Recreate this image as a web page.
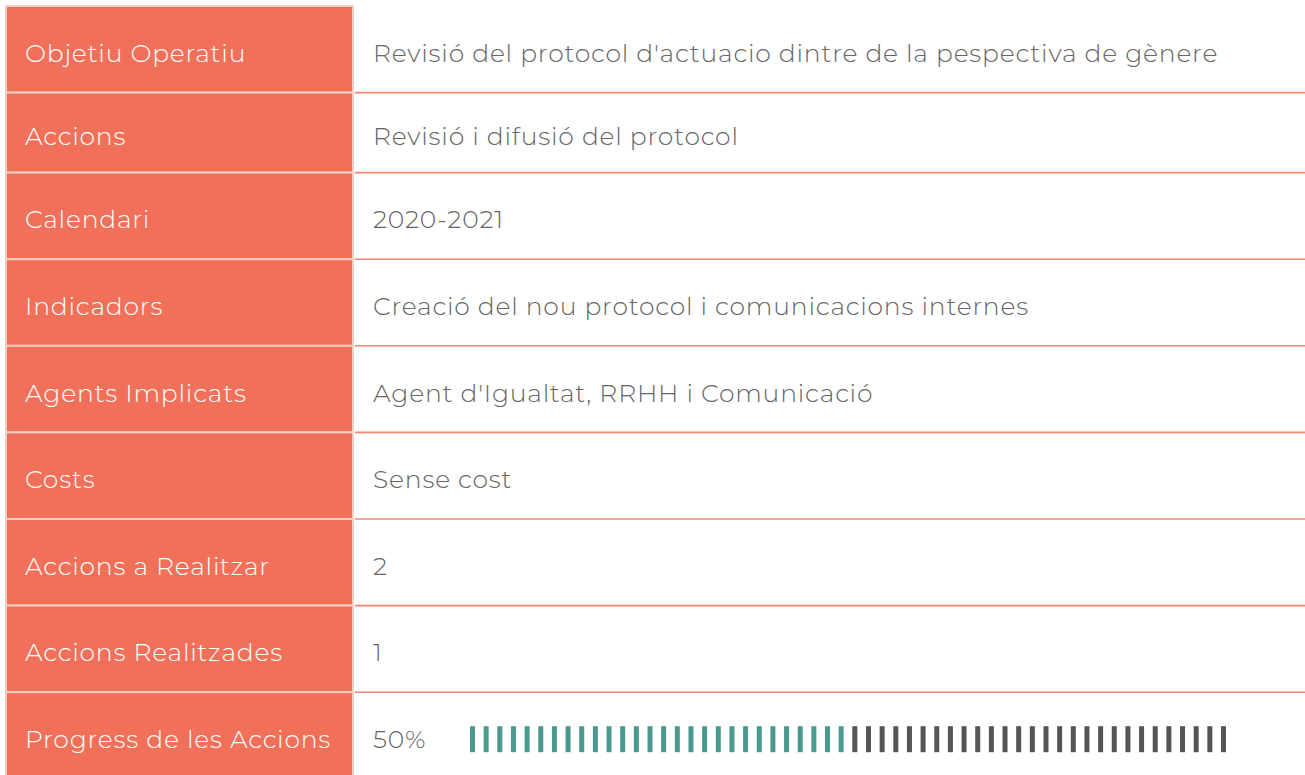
<!DOCTYPE html>
<html>
<head>
<meta charset="utf-8">
<script src="https://cdn.jsdelivr.net/npm/d3@7"></script>
<style>
	body { margin: 0; background: #fff; }
</style>
</head>
<body>
<div class="table-chart"></div>
<script>
const width = 1305,
	height = 775

// table content
const labels = [
	'Objetiu Operatiu',
	'Accions',
	'Calendari',
	'Indicadors',
	'Agents Implicats',
	'Costs',
	'Accions a Realitzar',
	'Accions Realitzades',
	'Progress de les Accions',
]
const values = [
	"Revisió del protocol d'actuacio dintre de la pespectiva de gènere",
	'Revisió i difusió del protocol',
	'2020-2021',
	'Creació del nou protocol i comunicacions internes',
	"Agent d'Igualtat, RRHH i Comunicació",
	'Sense cost',
	'2',
	'1',
	'50%',
]
const actionsTotal = 2
const actionsDone = 1
const progressTicks = 56

const coral = '#f07059'
const teal = '#4a998f'
const grey = '#555555'

// layout: row heights (second row is a bit shorter in the original)
const tableTop = 6
const rowHeights = labels.map((d, i) => (i === 1 ? 80 : 86.6))
const rowTops = rowHeights.map((h, i) => tableTop + d3.sum(rowHeights.slice(0, i)))

const leftX = 6,
	leftW = 347,
	rightX = 355

const svg = d3
	.select('.table-chart')
	.append('svg')
	.attr('width', width)
	.attr('height', height)
	.style('font-family', 'Montserrat, Inter, "Open Sans", sans-serif')
	.style('font-weight', 300)
	.style('font-size', '25px')
	.style('letter-spacing', '0.8px')

const rows = svg
	.selectAll('g.row')
	.data(labels)
	.enter()
	.append('g')
	.attr('class', 'row')
	.attr('transform', (d, i) => `translate(0,${rowTops[i]})`)

// label cells
rows
	.append('rect')
	.attr('x', leftX)
	.attr('y', 0)
	.attr('width', leftW)
	.attr('height', (d, i) => rowHeights[i])
	.attr('fill', coral)
	.attr('stroke', '#f9cdc2')
	.attr('stroke-width', 2)

rows
	.append('text')
	.attr('x', 25)
	.attr('y', (d, i) => rowHeights[i] / 2 + 12.5)
	.attr('fill', '#fff')
	.text(d => d)

// value cells, bottom border only
rows
	.append('line')
	.attr('x1', rightX)
	.attr('x2', width)
	.attr('y1', (d, i) => rowHeights[i])
	.attr('y2', (d, i) => rowHeights[i])
	.attr('stroke', coral)
	.attr('stroke-opacity', 0.85)
	.attr('stroke-width', 1.6)

rows
	.append('text')
	.attr('x', 373)
	.attr('y', (d, i) => rowHeights[i] / 2 + 12.5)
	.attr('fill', '#666')
	.text((d, i) => values[i])

// progress bar of ticks
const last = labels.length - 1
const share = actionsDone / actionsTotal
const x = d3
	.scaleBand()
	.domain(d3.range(progressTicks))
	.range([470, 1226])
	.paddingInner(0.634)

const bar = svg.append('g').attr('transform', `translate(0,${rowTops[last]})`)

bar
	.selectAll('rect')
	.data(d3.range(progressTicks))
	.enter()
	.append('rect')
	.attr('x', d => x(d))
	.attr('y', 34)
	.attr('width', x.bandwidth())
	.attr('height', 26)
	.attr('fill', d => (d < progressTicks * share ? teal : grey))
</script>
</body>
</html>
